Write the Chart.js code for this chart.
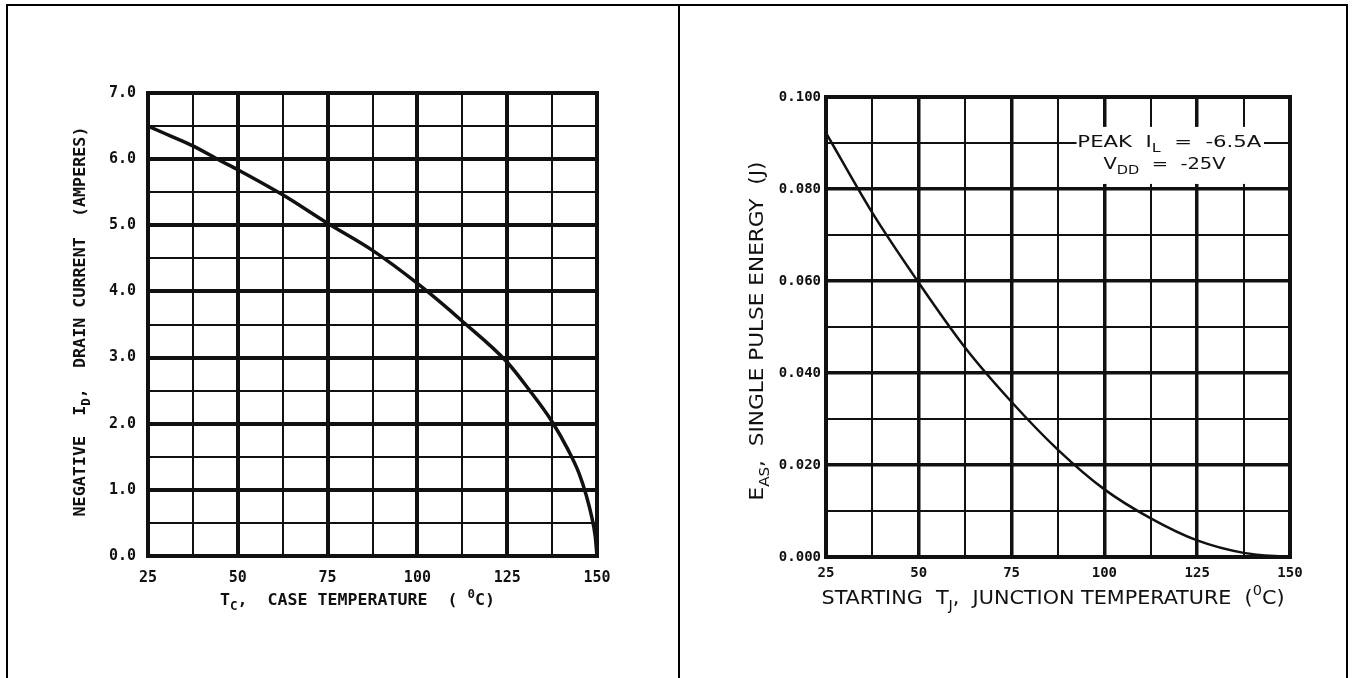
<!DOCTYPE html>
<html>
<head>
<meta charset="utf-8">
<script src="https://cdn.jsdelivr.net/npm/chart.js@4.4.1/dist/chart.umd.min.js"></script>
<style>
  body { margin: 0; background: #fff; }
  .line { position: absolute; background: #000; }
  canvas { position: absolute; }
</style>
</head>
<body>
<div class="line" style="left:6px;top:4px;width:1342px;height:2px"></div>
<div class="line" style="left:6px;top:4px;width:2px;height:674px"></div>
<div class="line" style="left:678px;top:4px;width:2px;height:674px"></div>
<div class="line" style="left:1346px;top:4px;width:2px;height:674px"></div>
<canvas id="leftChart" width="670" height="672" style="left:8px;top:6px"></canvas>
<canvas id="rightChart" width="665" height="672" style="left:681px;top:6px"></canvas>
<script>
// left chart: drain current vs case temperature
var caseTemp = [25, 30, 37.5, 45, 50, 62.5, 75, 87.5, 100, 112.5, 125, 131, 137.5, 142, 145, 147, 148.5, 149.5, 150];
var drainCurrent = [6.5, 6.38, 6.2, 5.98, 5.84, 5.46, 5.03, 4.62, 4.12, 3.55, 2.93, 2.52, 2.03, 1.6, 1.25, 0.92, 0.6, 0.3, 0];

// right chart: single pulse energy vs starting junction temperature
var junctionTemp = [25, 37.5, 50, 62.5, 75, 87.5, 100, 112.5, 125, 137.5, 150];
var pulseEnergy = [0.0922, 0.0748, 0.0596, 0.0455, 0.0337, 0.0233, 0.0147, 0.0084, 0.0036, 0.0009, 0];

var tempTicks = [25, 50, 75, 100, 125, 150];
var currentTicks = [0, 1, 2, 3, 4, 5, 6, 7];
var energyTicks = [0, 0.02, 0.04, 0.06, 0.08, 0.1];

function toPoints(xs, ys) {
  var pts = [];
  for (var i = 0; i < xs.length; i++) pts.push({x: xs[i], y: ys[i]});
  return pts;
}

function isOn(list, v) {
  for (var i = 0; i < list.length; i++) {
    if (Math.abs(list[i] - v) < 1e-6) return true;
  }
  return false;
}

// draws text with sub/superscript parts, centred on x,y, stretched to a given width
function drawRich(ctx, parts, x, y, size, family, weight, width, rotate) {
  var small = Math.round(size * 0.72);
  var total = 0;
  parts.forEach(function(p) {
    ctx.font = weight + ' ' + (p[1] ? small : size) + 'px ' + family;
    p.w = ctx.measureText(p[0]).width;
    total += p.w;
  });
  ctx.save();
  ctx.translate(x, y);
  if (rotate) ctx.rotate(-Math.PI / 2);
  var sx = width ? width / total : 1;
  ctx.scale(sx, 1);
  ctx.fillStyle = '#111';
  ctx.textBaseline = 'middle';
  ctx.textAlign = 'left';
  var cx = -total / 2;
  parts.forEach(function(p) {
    ctx.font = weight + ' ' + (p[1] ? small : size) + 'px ' + family;
    var dy = p[1] === 1 ? size * 0.38 : (p[1] === 2 ? -size * 0.38 : 0);
    ctx.fillText(p[0], cx, dy);
    cx += p.w;
  });
  ctx.restore();
}

var titlePlugin = {
  id: 'titles',
  beforeDatasetsDraw: function(chart, args, opts) {
    var ctx = chart.ctx;
    var a = chart.chartArea;
    // plot frame
    ctx.save();
    ctx.strokeStyle = '#111';
    ctx.lineWidth = opts.frame;
    ctx.strokeRect(a.left, a.top, a.right - a.left, a.bottom - a.top);
    ctx.restore();
    if (opts.note) {
      var xs = chart.scales.x, ys = chart.scales.y;
      var n = opts.note;
      var x0 = xs.getPixelForValue(n.box[0]), x1 = xs.getPixelForValue(n.box[1]);
      var y0 = ys.getPixelForValue(n.box[2]), y1 = ys.getPixelForValue(n.box[3]);
      ctx.fillStyle = '#fff';
      ctx.fillRect(x0, y0, x1 - x0, y1 - y0);
      n.lines.forEach(function(l) {
        drawRich(ctx, l.parts, xs.getPixelForValue(l.at[0]), ys.getPixelForValue(l.at[1]),
          n.size, n.family, 'normal', l.width, false);
      });
    }
  },
  afterDraw: function(chart, args, opts) {
    var ctx = chart.ctx;
    var a = chart.chartArea;
    var t = opts.x;
    drawRich(ctx, t.parts, (a.left + a.right) / 2 + t.dx, a.bottom + t.dy, t.size, t.family, t.weight, t.width, false);
    t = opts.y;
    drawRich(ctx, t.parts, a.left + t.dx, (a.top + a.bottom) / 2 + t.dy, t.size, t.family, t.weight, t.width, true);
  }
};

function gridWidth(list, major, minor, edge, min, max) {
  return function(c) {
    if (!c.tick) return minor;
    var v = c.tick.value;
    if (Math.abs(v - min) < 1e-6 || Math.abs(v - max) < 1e-6) return edge;
    return isOn(list, v) ? major : minor;
  };
}

var mono = '"DejaVu Sans Mono", monospace';
var narrow = '"Liberation Sans Narrow", "DejaVu Sans Condensed", "Liberation Sans", sans-serif';

new Chart(document.getElementById('leftChart'), {
  type: 'scatter',
  data: {
    datasets: [{
      data: toPoints(caseTemp, drainCurrent),
      showLine: true,
      borderColor: '#111',
      borderWidth: 3.5,
      pointRadius: 0,
      cubicInterpolationMode: 'monotone'
    }]
  },
  options: {
    responsive: false,
    animation: false,
    devicePixelRatio: 1,
    layout: { padding: { left: 90, right: 81, top: 87, bottom: 92 } },
    plugins: {
      legend: { display: false },
      tooltip: { enabled: false },
      titles: {
        frame: 4,
        x: { parts: [['T', 0], ['C', 1], [',  CASE TEMPERATURE  ( ', 0], ['0', 2], ['C)', 0]],
             dx: -15, dy: 45, size: 16, family: mono, weight: 'bold', width: 275 },
        y: { parts: [['NEGATIVE  I', 0], ['D', 1], [',  DRAIN CURRENT  (AMPERES)', 0]],
             dx: -67, dy: -3, size: 16, family: mono, weight: 'bold', width: 390 }
      }
    },
    scales: {
      x: {
        type: 'linear', min: 25, max: 150,
        afterFit: function(s) { s.height = 30; },
        ticks: {
          stepSize: 12.5, padding: 13, color: '#111', maxRotation: 0,
          font: { family: 'DejaVu Sans Mono', weight: 'bold', size: 15 },
          callback: function(v) { return isOn(tempTicks, v) ? String(v) : ''; }
        },
        grid: { color: '#111', drawTicks: false, lineWidth: gridWidth(tempTicks, 4, 2, 4, 25, 150) },
        border: { display: false }
      },
      y: {
        type: 'linear', min: 0, max: 7,
        afterFit: function(s) { s.width = 50; },
        ticks: {
          stepSize: 0.5, padding: 12, color: '#111',
          font: { family: 'DejaVu Sans Mono', weight: 'bold', size: 15 },
          callback: function(v) { return isOn(currentTicks, v) ? v.toFixed(1) : ''; }
        },
        grid: { color: '#111', drawTicks: false, lineWidth: gridWidth(currentTicks, 4, 2, 4, 0, 7) },
        border: { display: false }
      }
    }
  },
  plugins: [titlePlugin]
});

new Chart(document.getElementById('rightChart'), {
  type: 'scatter',
  data: {
    datasets: [{
      data: toPoints(junctionTemp, pulseEnergy),
      showLine: true,
      borderColor: '#111',
      borderWidth: 2.5,
      pointRadius: 0,
      cubicInterpolationMode: 'monotone'
    }]
  },
  options: {
    responsive: false,
    animation: false,
    devicePixelRatio: 1,
    layout: { padding: { left: 95, right: 56, top: 91, bottom: 91 } },
    plugins: {
      legend: { display: false },
      tooltip: { enabled: false },
      titles: {
        frame: 4,
        x: { parts: [['STARTING  T', 0], ['J', 1], [',  JUNCTION TEMPERATURE  (', 0], ['0', 2], ['C)', 0]],
             dx: -5, dy: 42, size: 20, family: narrow, weight: 'normal', width: 463 },
        y: { parts: [['E', 0], ['AS', 1], [',  SINGLE PULSE ENERGY  (J)', 0]],
             dx: -68, dy: 4, size: 20, family: narrow, weight: 'normal', width: 339 },
        note: {
          box: [92.5, 143, 0.0935, 0.0811], size: 16, family: narrow,
          lines: [
            { parts: [['PEAK  I', 0], ['L', 1], ['  =  -6.5A', 0]], at: [117.5, 0.0900], width: 184 },
            { parts: [['V', 0], ['DD', 1], ['  =  -25V', 0]], at: [116.2, 0.0852], width: 122 }
          ]
        }
      }
    },
    scales: {
      x: {
        type: 'linear', min: 25, max: 150,
        afterFit: function(s) { s.height = 30; },
        ticks: {
          stepSize: 12.5, padding: 8, color: '#111', maxRotation: 0,
          font: { family: 'DejaVu Sans Mono', weight: 'bold', size: 14 },
          callback: function(v) { return isOn(tempTicks, v) ? String(v) : ''; }
        },
        grid: { color: '#111', drawTicks: false, lineWidth: gridWidth(tempTicks, 3.5, 2, 4, 25, 150) },
        border: { display: false }
      },
      y: {
        type: 'linear', min: 0, max: 0.1,
        afterFit: function(s) { s.width = 50; },
        ticks: {
          stepSize: 0.01, padding: 5, color: '#111',
          font: { family: 'DejaVu Sans Mono', weight: 'bold', size: 14 },
          callback: function(v) { return isOn(energyTicks, v) ? v.toFixed(3) : ''; }
        },
        grid: { color: '#111', drawTicks: false, lineWidth: gridWidth(energyTicks, 3.5, 2, 4, 0, 0.1) },
        border: { display: false }
      }
    }
  },
  plugins: [titlePlugin]
});
</script>
</body>
</html>
